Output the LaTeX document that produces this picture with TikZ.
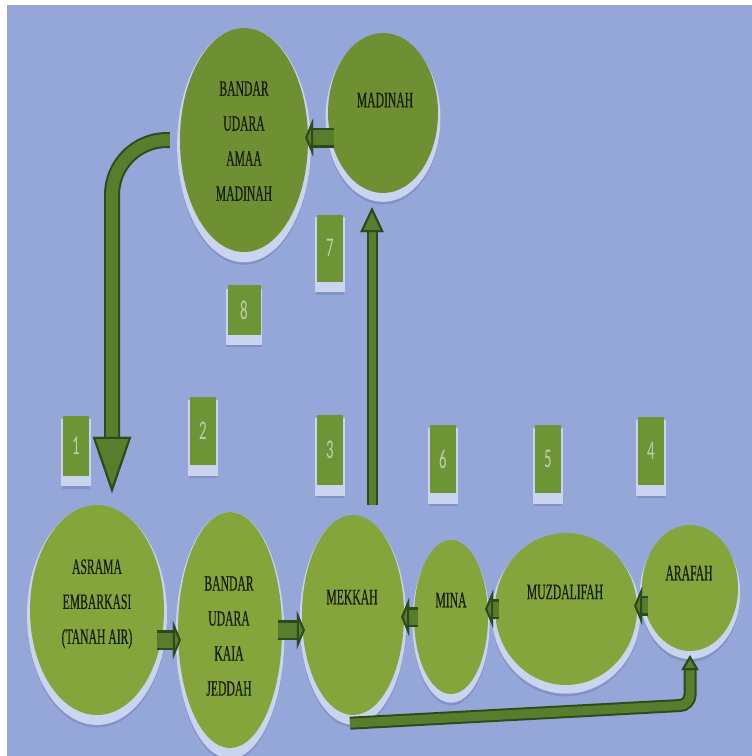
\documentclass[tikz,border=0pt]{standalone}
\usepackage{fontspec}
\usepackage{tikz}
\usetikzlibrary{positioning,shapes.geometric,arrows.meta,shadows}
\newfontfamily\stopfont[FakeStretch=0.53,FakeBold=0.4]{Liberation Serif}
\newfontfamily\numfont[FakeStretch=0.55]{Carlito}
\definecolor{pagebg}{HTML}{95A6D8}
\definecolor{greentop}{HTML}{6F8F33}
\definecolor{greenbot}{HTML}{84A53B}
\definecolor{greenbox}{HTML}{6D9535}
\definecolor{rimc}{HTML}{CBD4EE}
\definecolor{shadec}{HTML}{6F7FB5}
\definecolor{arrowfill}{HTML}{587D2C}
\definecolor{arrowedge}{HTML}{2E4A1B}
\definecolor{inkc}{HTML}{161C0E}
\definecolor{digitc}{HTML}{C2CCB2}

\begin{document}
\begin{tikzpicture}[x=1pt,y=-1pt,
  stop/.style={ellipse,inner sep=0pt,
    general shadow={fill=shadec,opacity=0.5,shadow scale=1.04,shadow yshift=-8pt},
    general shadow={fill=rimc,shadow scale=1.045,shadow yshift=-5pt}},
  stoplbl/.style={font=\stopfont\fontsize{22}{35}\selectfont,align=center,text=inkc},
  numbox/.style={fill=greenbox,inner sep=0pt,minimum width=26pt,minimum height=66pt,
    font=\numfont\fontsize{27}{30}\selectfont,text=digitc,
    general shadow={fill=shadec,opacity=0.5,shadow xshift=0pt,shadow yshift=-9pt,shadow scale=1.1},
    general shadow={fill=rimc,shadow xshift=0pt,shadow yshift=-6pt,shadow scale=1.12}},
  bigflow/.style={draw=arrowedge,line width=16pt,
    -{Triangle[width=38pt,length=56pt,color=arrowedge,fill=arrowfill,line width=2pt]},
    postaction={draw=arrowfill,line width=12pt}},
  upflow/.style={draw=arrowedge,line width=11pt,
    -{Triangle[width=23pt,length=25pt,color=arrowedge,fill=arrowfill,line width=2pt]},
    postaction={draw=arrowfill,line width=7pt}},
  backflow/.style={draw=arrowedge,line width=13pt,
    -{Triangle[width=17pt,length=15pt,color=arrowedge,fill=arrowfill,line width=2pt]},
    postaction={draw=arrowfill,line width=9pt}},
  stub/.style={draw=arrowedge,line width=20pt,shorten <=-4pt,shorten >=-3pt,
    -{Triangle[width=38pt,length=8pt,color=arrowedge,fill=arrowfill,line width=2pt]},
    postaction={draw=arrowfill,line width=15pt}}]
\useasboundingbox (0,0) rectangle (752,756);
\fill[white] (0,0) rectangle (752,756);
\fill[pagebg] (7,5) rectangle (752,756);

% top row
\node[stop,fill=greentop,minimum width=128pt,minimum height=224pt] (bum) at (244,140) {};
\node[stop,fill=greentop,minimum width=110pt,minimum height=160pt] (madinah) at (383,113) {};
\node[stoplbl] (bumlbl) at (244,141) {BANDAR\\UDARA\\AMAA\\MADINAH};
\node[stoplbl] (madinahlbl) at (385,100) {MADINAH};

% bottom row
\node[stop,fill=greenbot,minimum width=134pt,minimum height=210pt] (asrama) at (97,610) {};
\node[stop,fill=greenbot,minimum width=104pt,minimum height=236pt] (jeddah) at (230,630) {};
\node[stop,fill=greenbot,minimum width=102pt,minimum height=200pt] (mekkah) at (353,615) {};
\node[stop,fill=greenbot,minimum width=74pt,minimum height=154pt] (mina) at (451,617) {};
\node[stop,fill=greenbot,minimum width=142pt,minimum height=152pt] (muzdalifah) at (566,609) {};
\node[stop,fill=greenbot,minimum width=96pt,minimum height=126pt] (arafah) at (690,588) {};
\node[stoplbl] (asramalbl) at (97,604) {ASRAMA\\EMBARKASI\\(TANAH AIR)};
\node[stoplbl] (jeddahlbl) at (229,636) {BANDAR\\UDARA\\KAIA\\JEDDAH};
\node[stoplbl] (mekkahlbl) at (352,597) {MEKKAH};
\node[stoplbl] (minalbl) at (451,600) {MINA};
\node[stoplbl] (muzdalifahlbl) at (565,592) {MUZDALIFAH};
\node[stoplbl] (arafahlbl) at (689,573) {ARAFAH};

% step numbers
\node[numbox,minimum height=60pt] (n1) at (76,446) {1};
\node[numbox,minimum height=68pt] (n2) at (203,431) {2};
\node[numbox,minimum height=70pt] (n3) at (330,450) {3};
\node[numbox,minimum height=68pt] (n4) at (651,451) {4};
\node[numbox,minimum height=68pt] (n5) at (548,459) {5};
\node[numbox,minimum height=68pt] (n6) at (443,459) {6};
\node[numbox,minimum height=67pt] (n7) at (330,248) {7};
\node[numbox,minimum width=33pt,minimum height=50pt] (n8) at (244,310) {8};

% route
\draw[bigflow,rounded corners=55pt] ([xshift=-10pt]bum.west) -| ([xshift=15pt,yshift=12pt]asrama.north);
\draw[stub] (asrama.-25) -- (asrama.-25 -| jeddah.west);
\draw[stub] (jeddah.east) -- (jeddah.east -| mekkah.west);
\coordinate (turn) at (690,705);
\draw[backflow,rounded corners=10pt] ([xshift=-3pt,yshift=-8pt]mekkah.south) -- (turn) -- ([yshift=-4pt]arafah.south);
\draw[stub] (arafah.201) -- (arafah.201 -| muzdalifah.east);
\draw[stub] (muzdalifah.west) -- (muzdalifah.west -| mina.east);
\draw[stub] (mina.west) -- (mina.west -| mekkah.east);
\draw[upflow] ([xshift=19pt,yshift=10pt]mekkah.north) -- ([xshift=-11pt,yshift=-14pt]madinah.south);
\draw[stub] (madinah.205) -- (madinah.205 -| bum.east);
\end{tikzpicture}
\end{document}
